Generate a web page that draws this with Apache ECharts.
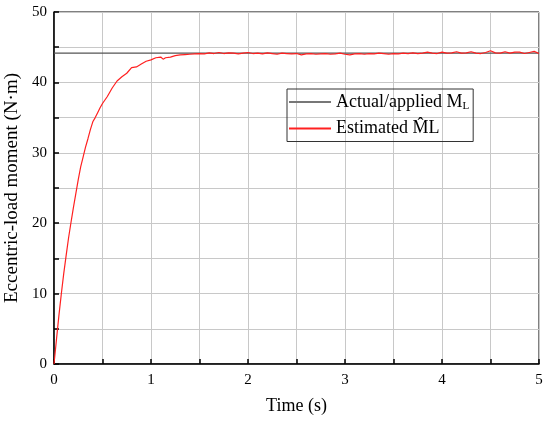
<!DOCTYPE html>
<html><head><meta charset="utf-8">
<script src="https://cdn.jsdelivr.net/npm/echarts@6/dist/echarts.min.js"></script>
<style>html,body{margin:0;padding:0;background:#fff}#c{width:550px;height:422px}</style>
</head><body><div id="c"></div>
<script>
var appliedValue = 44.15;
var times = [0,0.025,0.05,0.075,0.1,0.125,0.15,0.175,0.2,0.225,0.25,0.275,0.3,0.325,0.35,0.375,0.4,0.425,0.45,0.475,0.5,
0.55,0.6,0.65,0.7,0.75,0.8,0.85,0.9,0.95,1.0,1.05,1.1,1.125,1.15,1.2,1.25,1.3,1.35,1.4,1.45,1.5,1.55,
1.6,1.65,1.7,1.75,1.8,1.85,1.9,1.95,2.0,2.05,2.1,2.15,2.2,2.25,2.3,2.35,2.4,2.45,2.5,2.55,2.6,2.65,2.7,2.75,2.8,2.85,2.9,2.95,3.0,
3.05,3.1,3.15,3.2,3.25,3.3,3.35,3.4,3.45,3.5,3.55,3.6,3.65,3.7,3.75,3.8,3.85,3.9,3.95,4.0,4.05,4.1,4.15,4.2,4.25,4.3,4.35,4.4,4.45,4.5,
4.55,4.6,4.65,4.7,4.75,4.8,4.85,4.9,4.95,5.0];
var estimated = [0,3.4,6.8,9.9,12.8,15.4,17.9,20.1,22.2,24.2,26.2,28.0,29.4,30.8,32.0,33.3,34.4,35.0,35.7,36.4,37.0,
38.0,39.2,40.2,40.8,41.3,42.1,42.2,42.6,43.0,43.2,43.5,43.6,43.3,43.5,43.6,43.8,43.9,43.95,44.0,44.05,44.1,44.05,
44.2,44.1,44.25,44.1,44.2,44.15,44.05,44.15,44.25,44.1,44.15,44.05,44.2,44.1,44.0,44.15,44.1,44.05,44.1,43.9,44.05,44.1,44.0,44.05,44.1,44.0,44.05,44.15,44.0,
43.9,44.05,44.1,44.0,44.1,44.05,44.15,44.1,44.0,44.1,44.05,44.15,44.1,44.2,44.1,44.15,44.3,44.15,44.1,44.3,44.15,44.2,44.35,44.15,44.2,44.35,44.15,44.1,44.25,44.5,
44.2,44.15,44.35,44.15,44.3,44.3,44.1,44.25,44.4,44.1];
var xTicks = [0,1,2,3,4,5];
var yTicks = [0,10,20,30,40,50];

var estData = times.map(function(t,i){return [t, estimated[i]];});
var appliedData = [[0, appliedValue],[5, appliedValue]];
var font = 'Liberation Serif';
var chart = echarts.init(document.getElementById('c'));
chart.setOption({
  animation:false,
  backgroundColor:'#fff',
  grid:{left:54,right:11,top:12,bottom:58,show:true,borderColor:'#000',borderWidth:1,outerBoundsMode:'none',containLabel:false},
  legend:{
    orient:'vertical', left:287, top:89,
    itemWidth:42, itemHeight:2, itemGap:8, icon:'rect',
    borderColor:'#333', borderWidth:1, padding:[4,4,4,2],
    textStyle:{fontFamily:font,fontSize:18,color:'#000',
      rich:{sub:{fontFamily:font,fontSize:11,verticalAlign:'bottom',padding:[8,0,0,0]},
            n:{fontFamily:font,fontSize:18}}},
    formatter:function(name){
      if(name==='applied') return '{n|Actual/applied M}{sub|L}';
      return '{n|Estimated M\u0302L}';
    },
    data:['applied','estimated']
  },
  xAxis:{type:'value',min:0,max:5,interval:1,
    name:'Time (s)',nameLocation:'middle',nameGap:33,
    nameTextStyle:{fontFamily:font,fontSize:18,color:'#000'},
    axisLine:{show:true,lineStyle:{color:'#000',width:1.5}},
    axisTick:{show:true,inside:true,length:5,lineStyle:{color:'#000',width:1.5}},
    minorTick:{show:true,splitNumber:2,length:5,lineStyle:{color:'#000',width:1.5}},
    axisLabel:{fontFamily:font,fontSize:15,color:'#000',margin:9},
    splitLine:{show:true,lineStyle:{color:'#c8c8c8',width:1}},
    minorSplitLine:{show:true,lineStyle:{color:'#c8c8c8',width:1}}
  },
  yAxis:{type:'value',min:0,max:50,interval:10,
    name:'Eccentric-load moment (N\u00b7m)',nameLocation:'middle',nameGap:29,
    nameTextStyle:{fontFamily:font,fontSize:19,color:'#000'},
    axisLine:{show:true,lineStyle:{color:'#000',width:1.5}},
    axisTick:{show:true,inside:true,length:5,lineStyle:{color:'#000',width:1.5}},
    minorTick:{show:true,splitNumber:2,length:5,lineStyle:{color:'#000',width:1.5}},
    axisLabel:{fontFamily:font,fontSize:15,color:'#000',margin:7},
    splitLine:{show:true,lineStyle:{color:'#c8c8c8',width:1}},
    minorSplitLine:{show:true,lineStyle:{color:'#c8c8c8',width:1}}
  },
  series:[
    {name:'applied',type:'line',data:appliedData,showSymbol:false,symbol:'none',
      lineStyle:{color:'#555',width:1.2},itemStyle:{color:'#777'},z:2},
    {name:'estimated',type:'line',data:estData,showSymbol:false,symbol:'none',
      lineStyle:{color:'#ff2020',width:1.2},itemStyle:{color:'#ff2020'},z:3}
  ]
});
</script></body></html>
